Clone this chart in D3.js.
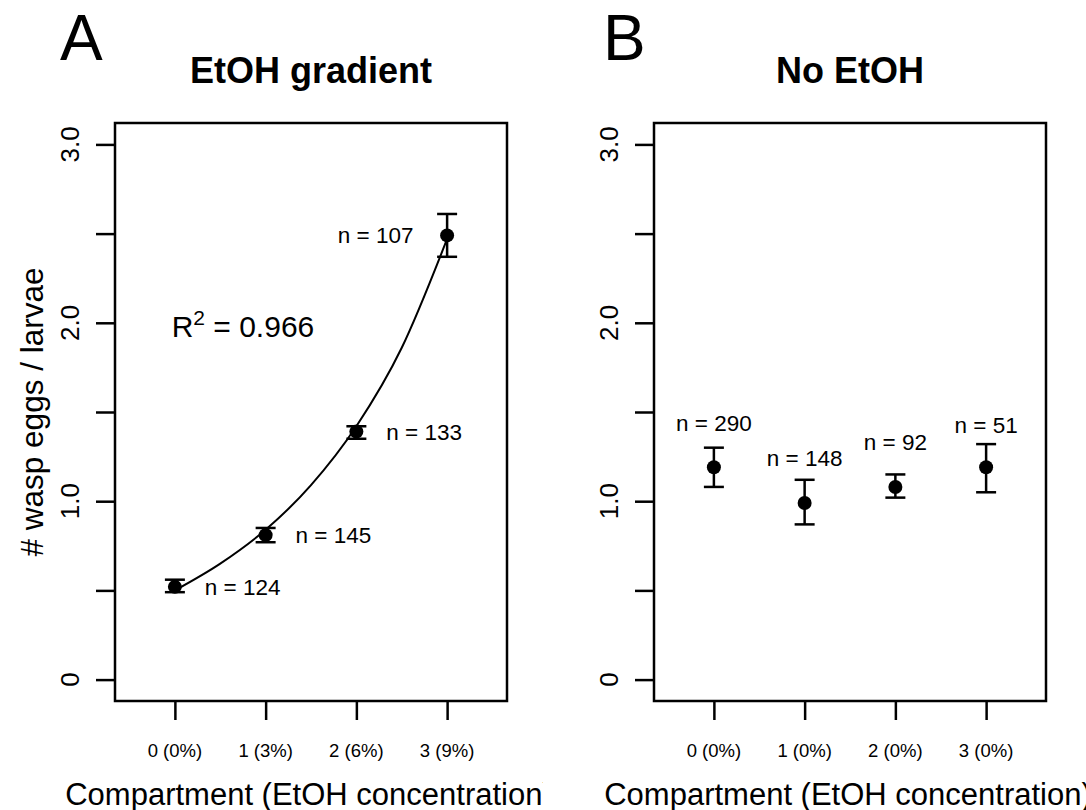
<!DOCTYPE html>
<html>
<head>
<meta charset="utf-8">
<script src="https://cdn.jsdelivr.net/npm/d3@7"></script>
<style>
  body { margin: 0; background: #fff; }
  svg { display: block; font-family: "Liberation Sans", Arial, Helvetica, sans-serif; }
</style>
</head>
<body>
<div id="chart"></div>
<script>
// DATA ////////////////////////////////////////////////////////////
var compartments = [0, 1, 2, 3];

// panel A : EtOH gradient
var gradLabels = ["0 (0%)", "1 (3%)", "2 (6%)", "3 (9%)"];
var gradMean = [0.52, 0.81, 1.39, 2.49];
var gradLow  = [0.49, 0.77, 1.35, 2.37];
var gradHigh = [0.56, 0.85, 1.42, 2.61];
var gradN    = [124, 145, 133, 107];
var gradNDx  = [0.33, 0.33, 0.33, -0.37];   // label offset from point (x units)
// fitted curve
var fitX = [0, 0.5, 1, 1.5, 2, 2.5, 3];
var fitY = [0.50, 0.65, 0.84, 1.09, 1.42, 1.86, 2.47];
var rSquared = "0.966";

// panel B : no EtOH
var ctrlLabels = ["0 (0%)", "1 (0%)", "2 (0%)", "3 (0%)"];
var ctrlMean = [1.19, 0.99, 1.08, 1.19];
var ctrlLow  = [1.08, 0.87, 1.02, 1.05];
var ctrlHigh = [1.30, 1.12, 1.15, 1.32];
var ctrlN    = [290, 148, 92, 51];
var ctrlNY   = [1.44, 1.24, 1.33, 1.43];    // label heights (y units)

var yTicks = [0, 0.5, 1, 1.5, 2, 2.5, 3];
var yTickLabels = ["0", "", "1.0", "", "2.0", "", "3.0"];

// PAGE SETUP //////////////////////////////////////////////////////
var width = 1086, height = 810;
var svg = d3.select("#chart").append("svg")
  .attr("width", width).attr("height", height);

var defs = svg.append("defs");

var panels = [
  { id: "A", title: "EtOH gradient", left: 115, fig: [0, 543],
    labels: gradLabels, mean: gradMean, low: gradLow, high: gradHigh, n: gradN, fit: true },
  { id: "B", title: "No EtOH", left: 654, fig: [543, 1086],
    labels: ctrlLabels, mean: ctrlMean, low: ctrlLow, high: ctrlHigh, n: ctrlN, fit: false }
];

var boxW = 392, boxTop = 123, boxBottom = 701;

panels.forEach(function(p, pi){
  var x = d3.scaleLinear().domain([-0.66, 3.66]).range([p.left, p.left + boxW]);
  var y = d3.scaleLinear().domain([-0.12, 3.12]).range([boxBottom, boxTop]);
  var g = svg.append("g").attr("class", "panel-" + p.id);

  // each panel's figure region clips its outer text (as the original does)
  defs.append("clipPath").attr("id", "fig" + p.id)
    .append("rect").attr("x", p.fig[0]).attr("y", 0)
    .attr("width", p.fig[1] - p.fig[0]).attr("height", height);

  // box
  g.append("rect")
    .attr("x", x.range()[0]).attr("y", boxTop)
    .attr("width", boxW).attr("height", boxBottom - boxTop)
    .attr("fill", "none").attr("stroke", "#000").attr("stroke-width", 2.5);

  // y axis ticks
  var yAxis = d3.axisLeft(y).tickValues(yTicks).tickSize(19).tickSizeOuter(0).tickFormat("");
  var ya = g.append("g").attr("transform", "translate(" + x.range()[0] + ",0)").call(yAxis);
  ya.select(".domain").remove();
  ya.selectAll("line").attr("stroke-width", 2.5);

  g.append("g").selectAll("text").data(yTicks)
    .enter().append("text")
    .attr("transform", function(d){ return "translate(" + (x.range()[0] - 36) + "," + y(d) + ") rotate(-90)"; })
    .attr("text-anchor", "middle")
    .attr("font-size", 26)
    .text(function(d, i){ return yTickLabels[i]; });

  // x axis ticks
  var xAxis = d3.axisBottom(x).tickValues(compartments).tickSize(19).tickSizeOuter(0).tickFormat("");
  var xa = g.append("g").attr("transform", "translate(0," + boxBottom + ")").call(xAxis);
  xa.select(".domain").remove();
  xa.selectAll("line").attr("stroke-width", 2.5);

  g.append("g").selectAll("text").data(compartments)
    .enter().append("text")
    .attr("x", function(d){ return x(d); })
    .attr("y", 757)
    .attr("text-anchor", "middle")
    .attr("font-size", 18.5)
    .text(function(d, i){ return p.labels[i]; });

  // axis titles
  g.append("text")
    .attr("clip-path", "url(#fig" + p.id + ")")
    .attr("x", p.left + boxW / 2 - 2).attr("y", 805)
    .attr("text-anchor", "middle").attr("font-size", 31)
    .text("Compartment (EtOH concentration)");

  if (pi === 0) {
    g.append("text")
      .attr("transform", "translate(43," + (boxTop + boxBottom) / 2 + ") rotate(-90)")
      .attr("text-anchor", "middle").attr("font-size", 31.5)
      .text("# wasp eggs / larvae");
  }

  // title + panel letter
  g.append("text")
    .attr("x", p.left + boxW / 2).attr("y", 83)
    .attr("text-anchor", "middle").attr("font-size", 36).attr("font-weight", "bold")
    .text(p.title);
  g.append("text")
    .attr("x", p.fig[0] + 60).attr("y", 60)
    .attr("font-size", 64)
    .text(p.id);

  // fitted curve
  if (p.fit) {
    var line = d3.line()
      .x(function(d){ return x(d[0]); })
      .y(function(d){ return y(d[1]); })
      .curve(d3.curveMonotoneX);
    g.append("path")
      .datum(d3.zip(fitX, fitY))
      .attr("d", line)
      .attr("fill", "none").attr("stroke", "#000").attr("stroke-width", 2);

    var rt = g.append("text")
      .attr("x", x(0.75)).attr("y", y(2.0) + 14)
      .attr("text-anchor", "middle").attr("font-size", 30);
    rt.append("tspan").text("R");
    rt.append("tspan").attr("dy", -12).attr("font-size", 21).text("2");
    rt.append("tspan").attr("dy", 12).text(" = " + rSquared);
  }

  // error bars
  var bars = g.append("g").selectAll("g").data(compartments).enter().append("g");
  bars.append("line")
    .attr("x1", function(d){ return x(d); }).attr("x2", function(d){ return x(d); })
    .attr("y1", function(d, i){ return y(p.low[i]); })
    .attr("y2", function(d, i){ return y(p.high[i]); });
  bars.append("line")
    .attr("x1", function(d){ return x(d) - 10; }).attr("x2", function(d){ return x(d) + 10; })
    .attr("y1", function(d, i){ return y(p.low[i]); })
    .attr("y2", function(d, i){ return y(p.low[i]); });
  bars.append("line")
    .attr("x1", function(d){ return x(d) - 10; }).attr("x2", function(d){ return x(d) + 10; })
    .attr("y1", function(d, i){ return y(p.high[i]); })
    .attr("y2", function(d, i){ return y(p.high[i]); });
  bars.selectAll("line").attr("stroke", "#000").attr("stroke-width", 2.5);

  // points
  g.append("g").selectAll("circle").data(compartments)
    .enter().append("circle")
    .attr("cx", function(d){ return x(d); })
    .attr("cy", function(d, i){ return y(p.mean[i]); })
    .attr("r", 7).attr("fill", "#000");

  // n labels
  g.append("g").selectAll("text").data(compartments)
    .enter().append("text")
    .attr("x", function(d, i){ return p.fit ? x(d + gradNDx[i]) : x(d); })
    .attr("y", function(d, i){ return p.fit ? y(p.mean[i]) : y(ctrlNY[i]); })
    .attr("dy", "0.36em")
    .attr("text-anchor", function(d, i){
      if (!p.fit) return "middle";
      return gradNDx[i] < 0 ? "end" : "start";
    })
    .attr("font-size", 22.5)
    .text(function(d, i){ return "n = " + p.n[i]; });
});
</script>
</body>
</html>
